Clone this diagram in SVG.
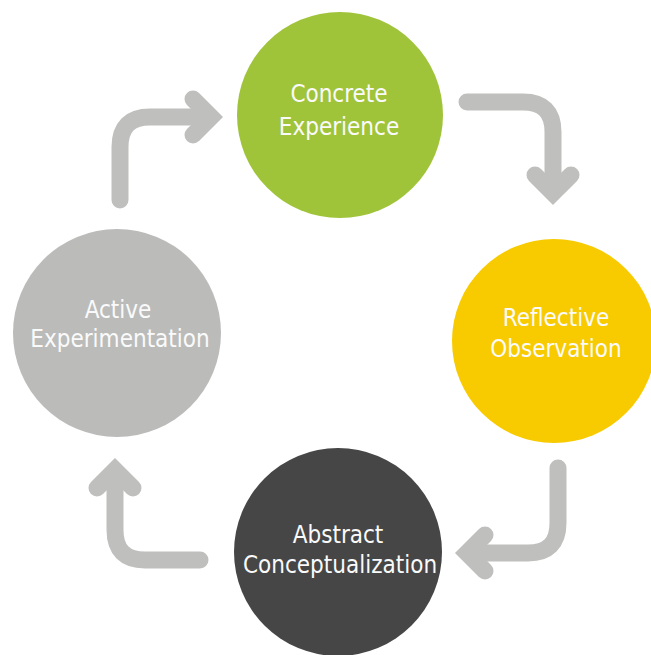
<svg xmlns="http://www.w3.org/2000/svg" width="651" height="655" viewBox="0 0 651 655">
  <style>
    .lbl { font-family: "DejaVu Sans Condensed", "DejaVu Sans", sans-serif; font-size: 24px; fill: #fafafa; text-anchor: middle; }
    .shaft { fill: none; stroke: #bfc0be; stroke-width: 17; stroke-linecap: round; stroke-linejoin: round; }
    .head { fill: none; stroke: #bfc0be; stroke-width: 17; stroke-linecap: round; stroke-linejoin: miter; stroke-miterlimit: 4; }
  </style>
  <rect width="651" height="655" fill="#ffffff"/>
  <g id="connectors">
    <g id="arrow-ae-ce">
      <path class="shaft" d="M120,200 V147 Q120,117 150,117 H206"/>
      <polyline class="head" points="193,99 211,117 193,135"/>
    </g>
    <g id="arrow-ce-ro">
      <path class="shaft" d="M467,102 H523 Q553,102 553,132 V188"/>
      <polyline class="head" points="535,175 553,193 571,175"/>
    </g>
    <g id="arrow-ro-ac">
      <path class="shaft" d="M558,468 V523 Q558,553 528,553 H472"/>
      <polyline class="head" points="485,535 467,553 485,571"/>
    </g>
    <g id="arrow-ac-ae">
      <path class="shaft" d="M200,560 H145 Q115,560 115,530 V475"/>
      <polyline class="head" points="97,488 115,470 133,488"/>
    </g>
  </g>
  <g id="concrete-experience">
    <circle cx="340" cy="115" r="103" fill="#9fc43a"/>
    <text class="lbl" x="339" y="102">Concrete</text>
    <text class="lbl" x="339" y="135">Experience</text>
  </g>
  <g id="reflective-observation">
    <circle cx="554" cy="341" r="102" fill="#f8cb00"/>
    <text class="lbl" x="556" y="326">Reflective</text>
    <text class="lbl" x="556" y="357">Observation</text>
  </g>
  <g id="abstract-conceptualization">
    <circle cx="338" cy="552" r="104" fill="#464646"/>
    <text class="lbl" x="338" y="543">Abstract</text>
    <text class="lbl" x="340" y="573">Conceptualization</text>
  </g>
  <g id="active-experimentation">
    <circle cx="117" cy="333" r="104" fill="#bbbcba"/>
    <text class="lbl" x="118" y="318">Active</text>
    <text class="lbl" x="120" y="347">Experimentation</text>
  </g>
</svg>
